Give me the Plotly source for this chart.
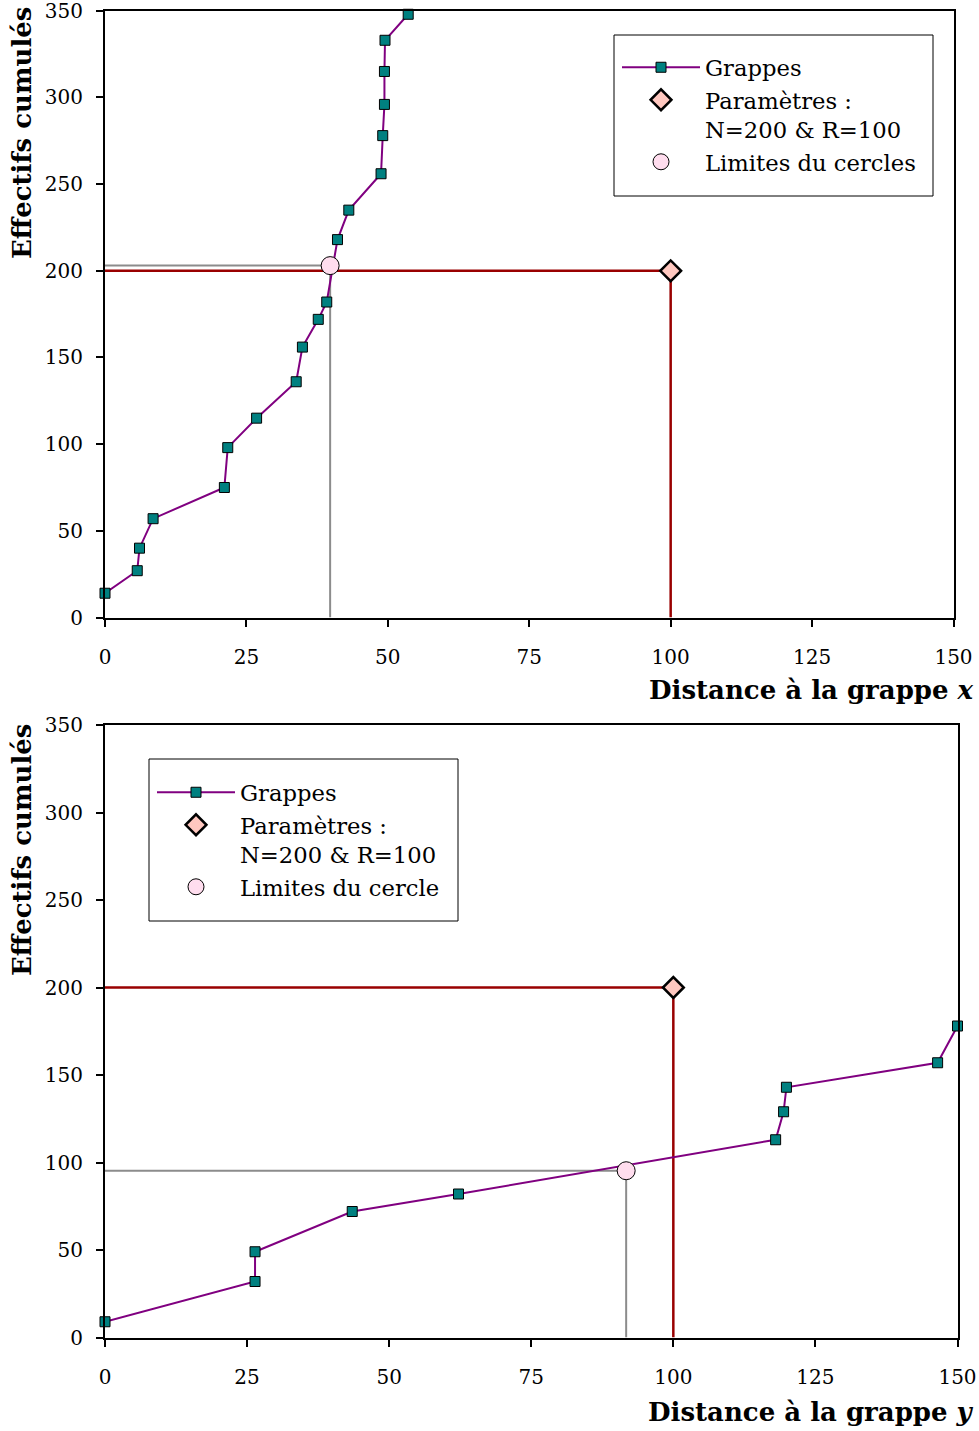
import plotly.graph_objects as go

# ---------------- data ----------------
# Top chart: distance to cluster x
top_dist = [0, 5.7, 6.1, 8.5, 21.1, 21.7, 26.8, 33.8, 34.9, 37.7, 39.2,
            41.1, 43.1, 48.8, 49.1, 49.4, 49.4, 49.5, 53.6]
top_cum = [14, 27, 40, 57, 75, 98, 115, 136, 156, 172, 182,
           218, 235, 256, 278, 296, 315, 333, 348]
top_limit_x = 39.8
top_limit_y = 203

# Bottom chart: distance to cluster y
bot_dist = [0, 26.4, 26.4, 43.5, 62.2, 118.0, 119.4, 119.9, 146.5, 150]
bot_cum = [9, 32, 49, 72, 82, 113, 129, 143, 157, 178]
bot_limit_x = 91.7
bot_limit_y = 95.3

# Parameters
N_param = 200
R_param = 100

x_ticks = [0, 25, 50, 75, 100, 125, 150]
y_ticks = [0, 50, 100, 150, 200, 250, 300, 350]

W, H = 979, 1431
FONT = "DejaVu Serif"

PURPLE = "#800080"
TEAL = "#008080"
DARKRED = "#990000"
GRAY = "#8c8c8c"
DIAMOND_FILL = "#FFC8C0"
CIRCLE_FILL = "#FFDDEE"

fig = go.Figure()


def add_panel(xa, ya, legend, dist, cum, lx, ly, circle_name):
    # parameter lines
    fig.add_trace(go.Scatter(
        x=[0, R_param, R_param], y=[N_param, N_param, 0], mode="lines",
        line=dict(color=DARKRED, width=2.5), showlegend=False,
        xaxis=xa, yaxis=ya, hoverinfo="skip", cliponaxis=False))
    # circle limit lines
    fig.add_trace(go.Scatter(
        x=[0, lx, lx], y=[ly, ly, 0], mode="lines",
        line=dict(color=GRAY, width=2), showlegend=False,
        xaxis=xa, yaxis=ya, hoverinfo="skip", cliponaxis=False))
    # clusters
    fig.add_trace(go.Scatter(
        x=dist, y=cum, mode="lines+markers", name="Grappes",
        line=dict(color=PURPLE, width=2),
        marker=dict(symbol="square", size=10, color=TEAL,
                    line=dict(color="black", width=1)),
        xaxis=xa, yaxis=ya, legend=legend, legendrank=1, cliponaxis=False))
    # parameters
    fig.add_trace(go.Scatter(
        x=[R_param], y=[N_param], mode="markers",
        name="Paramètres :<br>N=200 & R=100",
        marker=dict(symbol="diamond", size=16, color=DIAMOND_FILL,
                    line=dict(color="black", width=2.5)),
        xaxis=xa, yaxis=ya, legend=legend, legendrank=2, cliponaxis=False))
    # circle limit
    fig.add_trace(go.Scatter(
        x=[lx], y=[ly], mode="markers", name=circle_name,
        marker=dict(symbol="circle", size=18, color=CIRCLE_FILL,
                    line=dict(color="black", width=1)),
        xaxis=xa, yaxis=ya, legend=legend, legendrank=3, cliponaxis=False))


add_panel("x", "y", "legend", top_dist, top_cum, top_limit_x, top_limit_y,
          "Limites du cercles")
add_panel("x2", "y2", "legend2", bot_dist, bot_cum, bot_limit_x, bot_limit_y,
          "Limites du cercle")


def px_x(p):
    return p / W


def px_y(p):
    return (H - p) / H


axis_common = dict(
    showline=True, linewidth=2, linecolor="black", mirror=True,
    ticks="outside", ticklen=7, tickwidth=2, tickcolor="black",
    showgrid=False, zeroline=False, automargin=False,
    ticklabeloverflow="allow",
    tickfont=dict(family=FONT, size=20, color="black"),
)

legend_common = dict(
    xanchor="left", yanchor="top", borderwidth=0,
    bgcolor="rgba(0,0,0,0)", itemwidth=78,
    font=dict(family=FONT, size=22.7, color="black"),
    valign="top", tracegroupgap=0,
)

fig.update_layout(
    width=W, height=H,
    margin=dict(l=0, r=0, t=0, b=0, autoexpand=False),
    paper_bgcolor="white", plot_bgcolor="white",
    font=dict(family=FONT, color="black"),
    xaxis=dict(domain=[px_x(105), px_x(953.5)], range=[0, 150],
               tickvals=x_ticks, anchor="y", ticklabelstandoff=13,
               **axis_common),
    yaxis=dict(domain=[px_y(617.5), px_y(10.8)], range=[0, 350],
               tickvals=y_ticks, anchor="x", ticklabelstandoff=9,
               **axis_common),
    xaxis2=dict(domain=[px_x(105), px_x(957.5)], range=[0, 150],
                tickvals=x_ticks, anchor="y2", ticklabelstandoff=13,
                **axis_common),
    yaxis2=dict(domain=[px_y(1337.5), px_y(725)], range=[0, 350],
                tickvals=y_ticks, anchor="x2", ticklabelstandoff=9,
                **axis_common),
    legend=dict(x=px_x(617), y=px_y(46), **legend_common),
    legend2=dict(x=px_x(152), y=px_y(771), **legend_common),
    showlegend=True,
)

# legend frames
for (x0, y0, x1, y1) in [(614, 35, 933, 196), (149, 759, 458, 921)]:
    fig.add_shape(type="rect", xref="paper", yref="paper",
                  x0=px_x(x0), x1=px_x(x1), y0=px_y(y1), y1=px_y(y0),
                  line=dict(color="black", width=1), fillcolor="white",
                  layer="above")

title_font = dict(family=FONT, size=26, color="black")
fig.add_annotation(text="<b>Distance à la grappe <i>x</i></b>",
                   xref="paper", yref="paper", x=px_x(976), y=px_y(690),
                   xanchor="right", yanchor="middle", showarrow=False,
                   font=title_font)
fig.add_annotation(text="<b>Distance à la grappe <i>y</i></b>",
                   xref="paper", yref="paper", x=px_x(976), y=px_y(1412),
                   xanchor="right", yanchor="middle", showarrow=False,
                   font=title_font)
fig.add_annotation(text="<b>Effectifs cumulés</b>", textangle=-90,
                   xref="paper", yref="paper", x=px_x(22), y=px_y(133),
                   xanchor="center", yanchor="middle", showarrow=False,
                   font=title_font)
fig.add_annotation(text="<b>Effectifs cumulés</b>", textangle=-90,
                   xref="paper", yref="paper", x=px_x(22), y=px_y(850),
                   xanchor="center", yanchor="middle", showarrow=False,
                   font=title_font)

fig.write_html(
    "out.html",
    config={"displayModeBar": False},
    post_script="document.body.style.margin='0';document.body.style.overflow='hidden';",
)
